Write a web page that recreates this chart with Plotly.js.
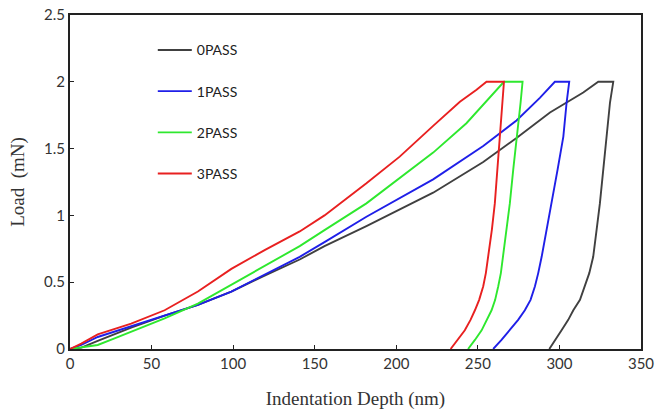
<!DOCTYPE html>
<html>
<head>
<meta charset="utf-8">
<script src="https://cdn.plot.ly/plotly-3.0.1.min.js"></script>
<style>
  html, body { margin: 0; padding: 0; background: #ffffff; }
  #chart { width: 655px; height: 412px; }
</style>
</head>
<body>
<div id="chart"></div>
<script>
// Series names
const seriesNames = ["0PASS", "1PASS", "2PASS", "3PASS"];

// 0PASS: loading, hold, unloading (depth nm, load mN)
const depth0 = [0, 7, 17, 27, 37.5, 58, 78.4, 98.9, 119.3, 140.8, 156, 181.7, 222.6, 253.3, 273.7, 294.2, 314.6, 323.8, 333, 331, 329, 326.9, 324.8, 322.8, 320.7, 318.3, 315.6, 312.6, 308.5, 305.4, 301.3, 297.2, 293.8];
const load0  = [0, 0.01, 0.06, 0.11, 0.16, 0.25, 0.33, 0.43, 0.55, 0.67, 0.77, 0.92, 1.17, 1.40, 1.58, 1.77, 1.92, 2.0, 2.0, 1.845, 1.59, 1.344, 1.09, 0.893, 0.69, 0.568, 0.47, 0.368, 0.29, 0.218, 0.14, 0.068, 0];

// 1PASS
const depth1 = [0, 6.9, 17, 37.5, 58, 78.4, 98.9, 119.3, 140.8, 156, 181.7, 222.6, 253.3, 273.7, 288, 297.2, 306, 304.4, 302.4, 298.9, 295.2, 292.1, 289.1, 287, 285, 282.3, 278.8, 274.7, 269.6, 264.5, 259.4];
const load1  = [0, 0.03, 0.09, 0.17, 0.255, 0.33, 0.43, 0.556, 0.69, 0.8, 0.99, 1.27, 1.52, 1.71, 1.88, 2.0, 2.0, 1.845, 1.59, 1.344, 1.09, 0.893, 0.69, 0.568, 0.47, 0.368, 0.29, 0.218, 0.14, 0.068, 0];

// 2PASS
const depth2 = [0, 6.9, 17, 27.3, 37.5, 58, 78.4, 98.9, 119.3, 140.8, 156, 181.7, 222.6, 243, 266, 277.4, 276.2, 273.7, 271.7, 269.6, 267.6, 265.5, 264.1, 262.5, 260.6, 258.4, 255.7, 252.3, 248.2, 244];
const load2  = [0, 0.01, 0.03, 0.08, 0.13, 0.23, 0.34, 0.48, 0.62, 0.77, 0.89, 1.09, 1.47, 1.69, 2.0, 2.0, 1.845, 1.59, 1.344, 1.09, 0.893, 0.69, 0.568, 0.47, 0.368, 0.29, 0.218, 0.14, 0.068, 0];

// 3PASS
const depth3 = [0, 6.9, 17, 37.5, 58, 78.4, 98.9, 119.3, 140.8, 156, 181.7, 202.1, 222.6, 239, 249.2, 255.3, 266, 265.1, 263.5, 262.1, 260.4, 258.6, 256.3, 254.9, 253.3, 250.8, 248.2, 245.5, 242, 237.5, 233.3];
const load3  = [0, 0.04, 0.11, 0.19, 0.29, 0.43, 0.6, 0.74, 0.88, 1.0, 1.24, 1.44, 1.67, 1.85, 1.94, 2.0, 2.0, 1.845, 1.59, 1.344, 1.09, 0.893, 0.69, 0.568, 0.47, 0.368, 0.29, 0.218, 0.14, 0.068, 0];

// Axis ticks
const xTicks = [0, 50, 100, 150, 200, 250, 300, 350];
const yTicks = [0, 0.5, 1, 1.5, 2, 2.5];

const colors = ["#404040", "#1f1fe8", "#2ee82e", "#e82020"];
const depths = [depth0, depth1, depth2, depth3];
const loads = [load0, load1, load2, load3];

const traces = seriesNames.map((name, i) => ({
  type: "scatter",
  mode: "lines",
  name: name,
  legendgroup: name,
  x: depths[i],
  y: loads[i],
  line: { color: colors[i], width: 1.9 }
}));

const tickFont = { family: "Lato, 'Open Sans', sans-serif", size: 15, color: "#333333" };
const titleFont = { family: "'Liberation Serif', 'DejaVu Serif', serif", size: 19, color: "#333333" };

const layout = {
  width: 655,
  height: 412,
  margin: { l: 70, r: 14, t: 15, b: 63 },
  paper_bgcolor: "#ffffff",
  plot_bgcolor: "#ffffff",
  showlegend: true,
  legend: {
    x: 0.145, y: 0.942, xanchor: "left", yanchor: "top",
    bgcolor: "rgba(0,0,0,0)",
    tracegroupgap: 20,
    itemwidth: 34,
    font: { family: "Lato, 'Open Sans', sans-serif", size: 14, color: "#222222" }
  },
  xaxis: {
    range: [0, 350],
    tickvals: xTicks,
    ticktext: xTicks.map(String),
    ticks: "inside", ticklen: 4, tickwidth: 1, tickcolor: "#222",
    showline: true, linecolor: "#222", linewidth: 2, mirror: true,
    showgrid: false, zeroline: false,
    tickfont: tickFont,
    title: { text: "Indentation Depth (nm)", font: titleFont, standoff: 21 }
  },
  yaxis: {
    range: [0, 2.5],
    tickvals: yTicks,
    ticktext: yTicks.map(String),
    ticks: "inside", ticklen: 4, tickwidth: 1, tickcolor: "#222",
    showline: true, linecolor: "#222", linewidth: 2, mirror: true,
    showgrid: false, zeroline: false,
    tickfont: tickFont,
    title: { text: "Load  (mN)", font: titleFont, standoff: 14 }
  }
};

Plotly.newPlot("chart", traces, layout, { displayModeBar: false, staticPlot: true });
</script>
</body>
</html>
